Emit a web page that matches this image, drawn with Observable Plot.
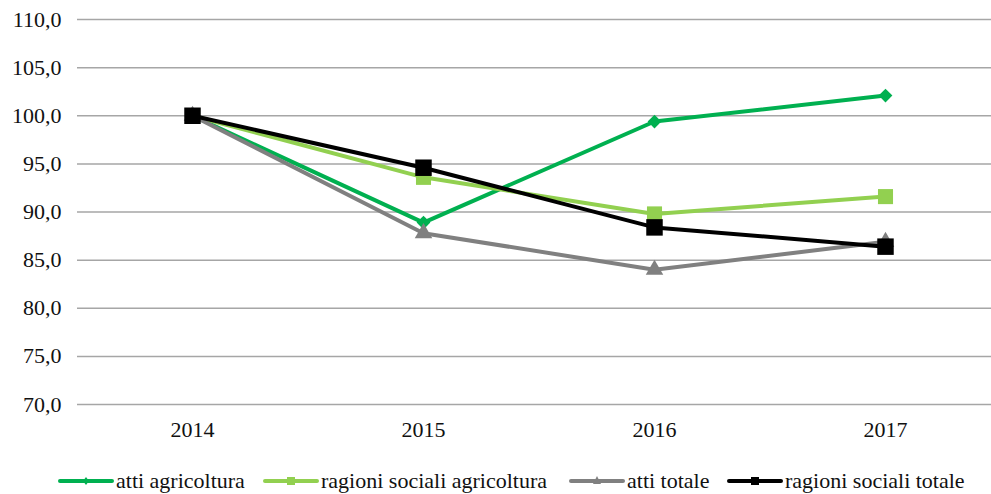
<!DOCTYPE html>
<html>
<head>
<meta charset="utf-8">
<script src="https://cdn.jsdelivr.net/npm/d3@7"></script>
<script src="https://cdn.jsdelivr.net/npm/@observablehq/plot@0.6"></script>
<style>
  body { margin: 0; background: #fff; }
  #chart { width: 991px; position: relative; }
  .legend { position: relative; height: 44px; font-family: Liberation Serif, Times New Roman, serif; font-size: 22px; color: #111; }
  .item { position: absolute; top: 18px; display: flex; align-items: center; white-space: nowrap; line-height: 26px; }
  .item svg { margin-right: 2px; }
</style>
</head>
<body>
<div id="chart"></div>
<script>
const years = ["2014", "2015", "2016", "2017"];
const seriesNames = ["atti agricoltura", "ragioni sociali agricoltura", "atti totale", "ragioni sociali totale"];
const attiAgricoltura = [100, 88.9, 99.4, 102.1];
const ragioniAgricoltura = [100, 93.6, 89.8, 91.6];
const attiTotale = [100, 87.8, 84.0, 86.9];
const ragioniTotale = [100, 94.6, 88.4, 86.4];
const yTicks = [70, 75, 80, 85, 90, 95, 100, 105, 110];

const colors = ["#00b050", "#92d050", "#808080", "#000000"];
const symbols = ["diamond2", "square", "triangle", "square"];
const radii = [6.2, 8.5, 6.5, 9.3];
const legendLeft = [58, 263, 569, 727];
const allValues = [attiAgricoltura, ragioniAgricoltura, attiTotale, ragioniTotale];

const fmt = d => d.toFixed(1).replace(".", ",");

const seriesMarks = allValues.flatMap((vals, i) => {
  const data = years.map((y, j) => ({year: y, value: vals[j]}));
  return [
    Plot.line(data, {x: "year", y: "value", stroke: colors[i], strokeWidth: 4}),
    Plot.dot(data, {x: "year", y: "value", fill: colors[i], stroke: "none", symbol: symbols[i], r: radii[i]})
  ];
});

const chart = Plot.plot({
  width: 991,
  height: 450,
  marginLeft: 77,
  marginRight: 0,
  marginTop: 19,
  marginBottom: 46,
  x: {type: "point", domain: years, range: [192, 885], padding: 0},
  y: {domain: [70, 110]},
  style: {fontFamily: "Liberation Serif, Times New Roman, serif", fontSize: "22px", color: "#111", background: "#fff"},
  marks: [
    Plot.ruleY(yTicks, {stroke: "#a6a6a6", strokeWidth: 1.5}),
    Plot.axisY({ticks: yTicks, tickSize: 0, tickPadding: 16, tickFormat: fmt, label: null, fill: "#111", fontSize: 22}),
    Plot.axisX({tickSize: 0, tickPadding: 17, label: null, fill: "#111", fontSize: 22}),
    ...seriesMarks
  ]
});
document.getElementById("chart").appendChild(chart);

// legend
const legend = document.createElement("div");
legend.className = "legend";
seriesNames.forEach((name, i) => {
  const item = document.createElement("div");
  item.className = "item";
  item.style.left = legendLeft[i] + "px";
  const sym = symbols[i];
  let marker;
  if (sym === "square") marker = `<rect x="24" y="3" width="8" height="8" fill="${colors[i]}"/>`;
  else if (sym === "triangle") marker = `<path d="M28,2 L32,10 L24,10 Z" fill="${colors[i]}"/>`;
  else marker = `<path d="M28,3 L31,7 L28,11 L25,7 Z" fill="${colors[i]}"/>`;
  item.innerHTML = `<svg width="56" height="14"><line x1="2" y1="7" x2="54" y2="7" stroke="${colors[i]}" stroke-width="4" stroke-linecap="round"/>${marker}</svg><span>${name}</span>`;
  legend.appendChild(item);
});
document.getElementById("chart").appendChild(legend);
</script>
</body>
</html>
